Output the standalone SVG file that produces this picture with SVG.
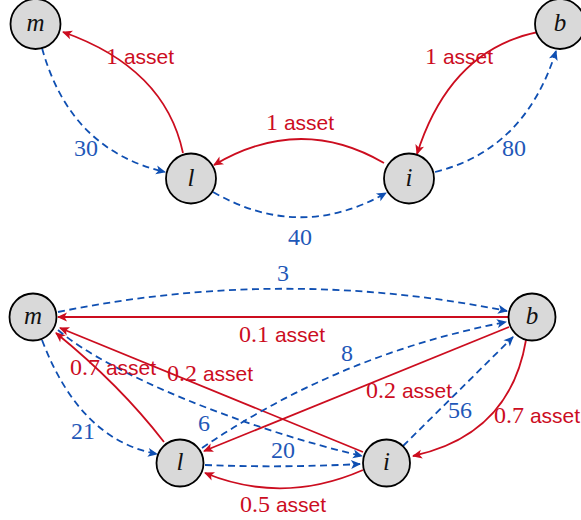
<svg xmlns="http://www.w3.org/2000/svg" width="581" height="520" viewBox="0 0 581 520">
  <style>
    .node circle { fill: #d9d9d9; stroke: #000; stroke-width: 1.8; }
    .node text { font-family: "Liberation Serif", "DejaVu Serif", serif; font-style: italic; font-size: 25px; text-anchor: middle; fill: #111; }
    .flow { fill: none; stroke: #cc0d1f; stroke-width: 1.8; marker-end: url(#headRed); }
    .pay { fill: none; stroke: #0f4fb2; stroke-width: 1.8; stroke-dasharray: 7 4.5; marker-end: url(#headBlue); }
    .lab { font-size: 24px; text-anchor: middle; }
    .lab.r { fill: #cc0d1f; }
    .lab.b { fill: #1f58b8; }
    .num { font-family: "Liberation Serif", "DejaVu Serif", serif; }
    .sans { font-family: "Liberation Sans", "DejaVu Sans", sans-serif; font-size: 21px; }
  </style>
  <defs>
    <marker id="headRed" markerUnits="userSpaceOnUse" markerWidth="14" markerHeight="12" viewBox="-11 -6 14 12" refX="0" refY="0" orient="auto" overflow="visible">
      <path d="M1,0 L-9,-4.5 L-6.5,0 L-9,4.5 Z" fill="#cc0d1f"/>
    </marker>
    <marker id="headBlue" markerUnits="userSpaceOnUse" markerWidth="14" markerHeight="12" viewBox="-11 -6 14 12" refX="0" refY="0" orient="auto" overflow="visible">
      <path d="M1,0 L-9,-4.5 L-6.5,0 L-9,4.5 Z" fill="#0f4fb2"/>
    </marker>
  </defs>

  <!-- connectors -->
  <g id="connectors">
    <!-- upper graph -->
    <path class="pay" d="M42,48 Q70,150 165,172"/>
    <path class="flow" d="M183,153 Q165,68 63,32"/>
    <path class="flow" d="M384,163 Q300,114 214,165"/>
    <path class="pay" d="M213,192 Q300,242 386,193"/>
    <path class="flow" d="M538,32 Q450,50 417,154"/>
    <path class="pay" d="M435,172 Q525,150 556,51"/>

    <!-- lower graph -->
    <path class="pay" d="M58,312 Q283,266 507,311"/>
    <path class="flow" d="M508,317 L58,317"/>
    <path class="pay" d="M42,340 Q80,440 157,454"/>
    <path class="flow" d="M164,442 Q120,385 56,333"/>
    <path class="flow" d="M363,452 L60,328"/>
    <path class="pay" d="M58,330 C110,375 250,430 362,456"/>
    <path class="pay" d="M202,448 Q340,354 506,322"/>
    <path class="flow" d="M509,327 L204,451"/>
    <path class="pay" d="M403,446 L513,337"/>
    <path class="flow" d="M526,340 Q510,435 413,456"/>
    <path class="flow" d="M363,470 Q283,505 205,473"/>
    <path class="pay" d="M205,465 Q283,468 360,464"/>
  </g>

  <!-- edge labels -->
  <g id="labels">
    <text class="lab b num" x="86" y="156">30</text>
    <text class="lab r" x="140" y="64"><tspan class="num">1 </tspan><tspan class="sans">asset</tspan></text>
    <text class="lab r" x="300" y="130"><tspan class="num">1 </tspan><tspan class="sans">asset</tspan></text>
    <text class="lab b num" x="300" y="245">40</text>
    <text class="lab r" x="459" y="64"><tspan class="num">1 </tspan><tspan class="sans">asset</tspan></text>
    <text class="lab b num" x="514" y="156">80</text>

    <text class="lab b num" x="283" y="281">3</text>
    <text class="lab r" x="282" y="342"><tspan class="num">0.1 </tspan><tspan class="sans">asset</tspan></text>
    <text class="lab b num" x="83" y="439">21</text>
    <text class="lab r" x="113" y="375"><tspan class="num">0.7 </tspan><tspan class="sans">asset</tspan></text>
    <text class="lab r" x="210" y="381"><tspan class="num">0.2 </tspan><tspan class="sans">asset</tspan></text>
    <text class="lab b num" x="347" y="361">8</text>
    <text class="lab b num" x="204" y="431">6</text>
    <text class="lab b num" x="283" y="458">20</text>
    <text class="lab r" x="409" y="398"><tspan class="num">0.2 </tspan><tspan class="sans">asset</tspan></text>
    <text class="lab b num" x="460" y="418">56</text>
    <text class="lab r" x="537" y="423"><tspan class="num">0.7 </tspan><tspan class="sans">asset</tspan></text>
    <text class="lab r" x="283" y="512"><tspan class="num">0.5 </tspan><tspan class="sans">asset</tspan></text>
  </g>

  <!-- upper graph nodes -->
  <g id="m1" class="node"><circle cx="35.5" cy="24" r="25"/><text x="35.5" y="31">m</text></g>
  <g id="l1" class="node"><circle cx="191" cy="178.5" r="25"/><text x="191" y="186">l</text></g>
  <g id="i1" class="node"><circle cx="409" cy="178.5" r="25"/><text x="409" y="186">i</text></g>
  <g id="b1" class="node"><circle cx="560" cy="24" r="25"/><text x="560" y="31">b</text></g>

  <!-- lower graph nodes -->
  <g id="m2" class="node"><circle cx="33" cy="317" r="23.5"/><text x="33" y="324">m</text></g>
  <g id="l2" class="node"><circle cx="180" cy="463" r="23.5"/><text x="180" y="470">l</text></g>
  <g id="i2" class="node"><circle cx="386.5" cy="463" r="23.5"/><text x="386.5" y="470">i</text></g>
  <g id="b2" class="node"><circle cx="532" cy="317" r="23.5"/><text x="532" y="324">b</text></g>
</svg>
